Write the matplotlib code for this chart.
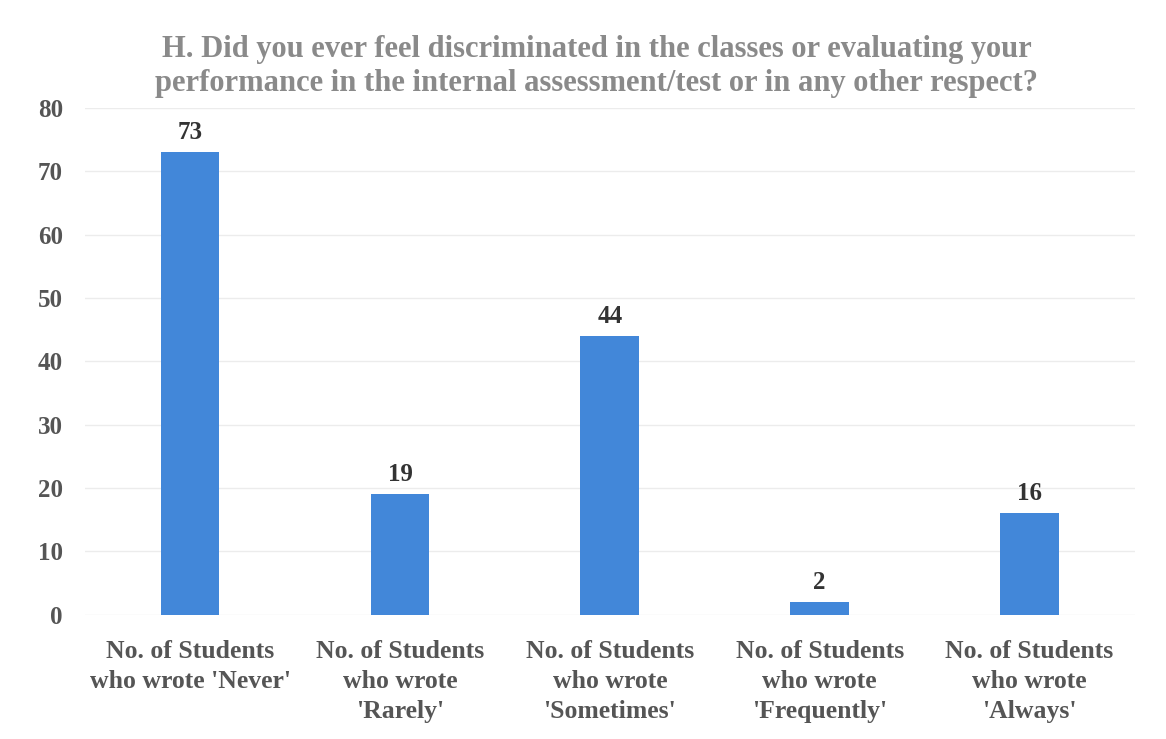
import matplotlib.pyplot as plt

# Data
categories = ["No. of Students\nwho wrote 'Never'",
              "No. of Students\nwho wrote\n'Rarely'",
              "No. of Students\nwho wrote\n'Sometimes'",
              "No. of Students\nwho wrote\n'Frequently'",
              "No. of Students\nwho wrote\n'Always'"]
counts = [73, 19, 44, 2, 16]
y_ticks = [0, 10, 20, 30, 40, 50, 60, 70, 80]

plt.rcParams['font.family'] = ['Liberation Serif', 'DejaVu Serif']

fig = plt.figure(figsize=(11.66, 7.39), dpi=100)
ax = fig.add_axes([0.073, 0.168, 0.9, 0.686])

x = list(range(len(categories)))
bars = ax.bar(x, counts, width=0.28, color='#4287d9', zorder=3)

# Labels above the bars
for rect, v in zip(bars, counts):
    ax.text(rect.get_x() + rect.get_width() / 2, v + 1.3, str(v),
            ha='center', va='bottom', fontsize=18, fontweight='bold', color='#333333')

ax.set_xlim(-0.5, len(categories) - 0.5)
ax.set_ylim(0, 80)
ax.set_yticks(y_ticks)
ax.set_yticklabels([str(t) for t in y_ticks], fontsize=18, fontweight='bold', color='#555555')
ax.set_xticks(x)
ax.set_xticklabels(categories, fontsize=18.5, fontweight='bold', color='#555555', linespacing=1.4)
ax.tick_params(axis='both', length=0)
ax.tick_params(axis='x', pad=18)
ax.tick_params(axis='y', pad=16)
ax.grid(axis='y', color='#ececec', linewidth=1, zorder=0)

for s in ax.spines.values():
    s.set_visible(False)

fig.text(0.512, 0.952, "H. Did you ever feel discriminated in the classes or evaluating your\n"
         "performance in the internal assessment/test or in any other respect?",
         ha='center', va='top', fontsize=22, fontweight='bold', color='#8a8a8a', linespacing=1.2)

fig.savefig('out.png', dpi=100)
